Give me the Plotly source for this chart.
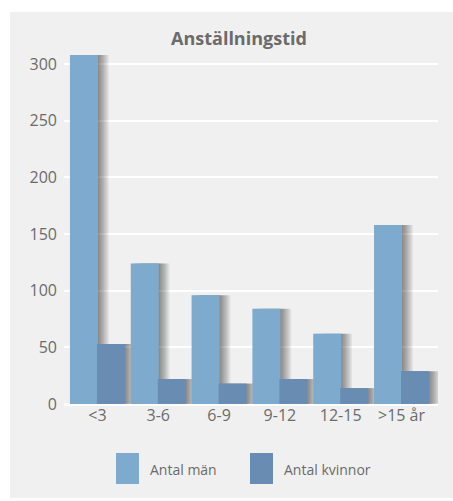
import plotly.graph_objects as go

categories = ["<3", "3-6", "6-9", "9-12", "12-15", ">15 år"]
men = [308, 124, 96, 84, 62, 158]
women = [53, 22, 18, 22, 14, 29]
series_names = ["Antal män", "Antal kvinnor"]
title_text = "Anställningstid"
y_ticks = [0, 50, 100, 150, 200, 250, 300]

MEN_COLOR = "#7eaacd"
WOMEN_COLOR = "#698cb2"
BG = "#f0f0f0"
TXT = "#6b6b6b"
FONT = "Open Sans"

W, H = 453, 501
L, R, T, B = 64, 15, 52, 97
PW, PH = W - L - R, H - T - B
XR = [-0.55, 5.6]
YR = [0, PH / 1.1333]

def px_to_paper_x(px):
    return (px - L) / PW

def px_to_paper_y(py):
    return (H - B - py) / PH

xs = list(range(len(categories)))
bar_w = 0.46
offsets = [-0.452, -0.008]
fig = go.Figure()

# soft drop shadows
for k in range(1, 10):
    dx = k * 0.02
    for vals, off in zip([men, women], offsets):
        fig.add_trace(go.Bar(
            x=xs, y=vals, width=bar_w, offset=off + dx,
            marker=dict(color="rgba(0,0,0,0.055)", line=dict(width=0)),
            showlegend=False, hoverinfo="skip"))

for vals, off, col, name in zip([men, women], offsets, [MEN_COLOR, WOMEN_COLOR], series_names):
    fig.add_trace(go.Bar(
        x=xs, y=vals, width=bar_w, offset=off, name=name,
        marker=dict(color=col, line=dict(width=0)), showlegend=False))

# white page margins around the grey panel (panel fills the rest of the paper)
shapes = [
    dict(type="rect", xref="paper", yref="paper",
         x0=px_to_paper_x(-5), x1=px_to_paper_x(W + 5),
         y0=px_to_paper_y(12), y1=px_to_paper_y(-5),
         fillcolor="white", line=dict(width=0), layer="below"),
    dict(type="rect", xref="paper", yref="paper",
         x0=px_to_paper_x(-5), x1=px_to_paper_x(10),
         y0=px_to_paper_y(H + 5), y1=px_to_paper_y(-5),
         fillcolor="white", line=dict(width=0), layer="below"),
    dict(type="rect", xref="paper", yref="paper",
         x0=px_to_paper_x(-5), x1=px_to_paper_x(W + 5),
         y0=px_to_paper_y(H + 5), y1=px_to_paper_y(498),
         fillcolor="white", line=dict(width=0), layer="below"),
]
annotations = [
    dict(text="<b>" + title_text + "</b>", xref="paper", yref="paper",
         x=px_to_paper_x(239), y=px_to_paper_y(38), showarrow=False,
         font=dict(family=FONT, size=18, color=TXT), xanchor="center", yanchor="middle"),
]
# legend (manual)
leg_boxes = [(116, MEN_COLOR), (250, WOMEN_COLOR)]
for (bx, col), name in zip(leg_boxes, series_names):
    shapes.append(dict(type="rect", xref="paper", yref="paper",
                       x0=px_to_paper_x(bx), x1=px_to_paper_x(bx + 23),
                       y0=px_to_paper_y(484), y1=px_to_paper_y(453),
                       fillcolor=col, line=dict(width=0)))
    annotations.append(dict(text=name, xref="paper", yref="paper",
                            x=px_to_paper_x(bx + 32), y=px_to_paper_y(469),
                            showarrow=False, xanchor="left", yanchor="middle",
                            font=dict(family=FONT, size=14, color=TXT)))

fig.update_layout(
    width=W, height=H,
    margin=dict(l=L, r=R, t=T, b=B, autoexpand=False),
    paper_bgcolor=BG, plot_bgcolor=BG,
    barmode="overlay", showlegend=False,
    shapes=shapes, annotations=annotations,
    xaxis=dict(range=XR, tickmode="array", tickvals=xs, ticktext=categories,
               showgrid=False, zeroline=False, showline=False, ticks="",
               tickfont=dict(family=FONT, size=16, color=TXT)),
    yaxis=dict(range=YR, tickmode="array", tickvals=y_ticks,
               showgrid=True, gridcolor="white", gridwidth=2,
               zeroline=True, zerolinecolor="white", zerolinewidth=3,
               showline=False, ticks="", ticklabelstandoff=6,
               tickfont=dict(family=FONT, size=16, color=TXT)),
)

fig.write_html("out.html", config={"displayModeBar": False},
               post_script="document.body.style.margin='0';document.body.style.overflow='hidden';")
